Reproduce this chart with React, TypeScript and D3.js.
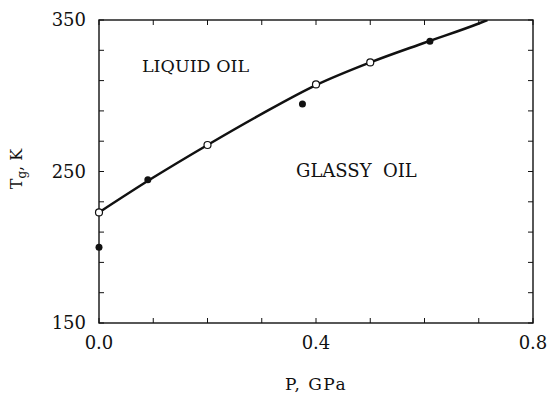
import React from "react";
import * as d3 from "d3";

// Glass transition temperature vs pressure
const openP = [0.0, 0.2, 0.4, 0.5];
const openT = [223, 267.5, 307.5, 322];
const filledP = [0.0, 0.09, 0.375, 0.61];
const filledT = [200, 244.5, 294.5, 336];
// Fitted boundary between liquid and glassy states
const curveP = [0.0, 0.1, 0.2, 0.3, 0.4, 0.5, 0.6, 0.7, 0.716];
const curveT = [223, 246, 267.5, 288, 307, 322, 335, 347.7, 350];

const xTicks = [0, 0.1, 0.2, 0.3, 0.4, 0.5, 0.6, 0.7, 0.8];
const xLabels = ["0.0", "0.4", "0.8"];
const yTicks = [150, 170, 190, 210, 230, 250, 270, 290, 310, 330, 350];
const yLabels = ["150", "250", "350"];

const W = 548;
const H = 402;
const left = 99;
const right = 533;
const top = 20;
const bottom = 323;
const FONT = "'DejaVu Serif', serif";

export default function App() {
  const x = d3.scaleLinear().domain([0, 0.8]).range([left, right]);
  const y = d3.scaleLinear().domain([150, 350]).range([bottom, top]);

  const pts: [number, number][] = curveP.map((p, i) => [p, curveT[i]]);
  const line = d3
    .line<[number, number]>()
    .x((d) => x(d[0]))
    .y((d) => y(d[1]))
    .curve(d3.curveMonotoneX);

  const tick = 5;

  return (
    <div style={{ position: "absolute", left: 0, top: 0 }}>
      <svg width={W} height={H} style={{ display: "block", background: "#fff" }}>
        <defs>
          <clipPath id="plot">
            <rect x={left} y={top} width={right - left} height={bottom - top} />
          </clipPath>
        </defs>
        {/* frame */}
        <rect
          x={left}
          y={top}
          width={right - left}
          height={bottom - top}
          fill="none"
          stroke="#111"
          strokeWidth={1.4}
        />
        {/* inward ticks on all sides */}
        {xTicks.map((t) => (
          <g key={"xt" + t}>
            <line x1={x(t)} x2={x(t)} y1={bottom} y2={bottom - tick} stroke="#111" strokeWidth={1} />
            <line x1={x(t)} x2={x(t)} y1={top} y2={top + tick} stroke="#111" strokeWidth={1} />
          </g>
        ))}
        {yTicks.map((t) => (
          <g key={"yt" + t}>
            <line x1={left} x2={left + tick} y1={y(t)} y2={y(t)} stroke="#111" strokeWidth={1} />
            <line x1={right} x2={right - tick} y1={y(t)} y2={y(t)} stroke="#111" strokeWidth={1} />
          </g>
        ))}
        {/* tick labels */}
        {xLabels.map((l) => (
          <text
            key={"xl" + l}
            x={x(+l)}
            y={349}
            textAnchor="middle"
            fontFamily={FONT}
            fontSize={18}
            fill="#111"
          >
            {l}
          </text>
        ))}
        {yLabels.map((l) => (
          <text
            key={"yl" + l}
            x={86}
            y={y(+l)}
            dy="0.35em"
            textAnchor="end"
            fontFamily={FONT}
            fontSize={18}
            fill="#111"
          >
            {l}
          </text>
        ))}
        {/* axis titles */}
        <text
          x={(left + right) / 2}
          y={390}
          textAnchor="middle"
          fontFamily={FONT}
          fontSize={17}
          letterSpacing={1.5}
          fill="#111"
        >
          P, GPa
        </text>
        <text
          transform={`translate(22, ${169}) rotate(-90)`}
          textAnchor="middle"
          fontFamily={FONT}
          fontSize={16}
          fill="#111"
        >
          T
          <tspan fontSize={12} dy={4}>g</tspan>
          <tspan dy={-4}>, K</tspan>
        </text>
        {/* region labels */}
        <text x={142} y={72} fontFamily={FONT} fontSize={17.5} fill="#111">
          LIQUID OIL
        </text>
        <text x={296} y={177} fontFamily={FONT} fontSize={18} fill="#111" style={{ whiteSpace: "pre" }}>
          GLASSY  OIL
        </text>
        {/* boundary curve */}
        <path
          d={line(pts) || ""}
          fill="none"
          stroke="#111"
          strokeWidth={2.5}
          clipPath="url(#plot)"
        />
        {/* data points */}
        {openP.map((p, i) => (
          <circle
            key={"o" + i}
            cx={x(p)}
            cy={y(openT[i])}
            r={3.5}
            fill="#fff"
            stroke="#111"
            strokeWidth={1.2}
          />
        ))}
        {filledP.map((p, i) => (
          <circle key={"f" + i} cx={x(p)} cy={y(filledT[i])} r={3.5} fill="#111" />
        ))}
      </svg>
    </div>
  );
}
